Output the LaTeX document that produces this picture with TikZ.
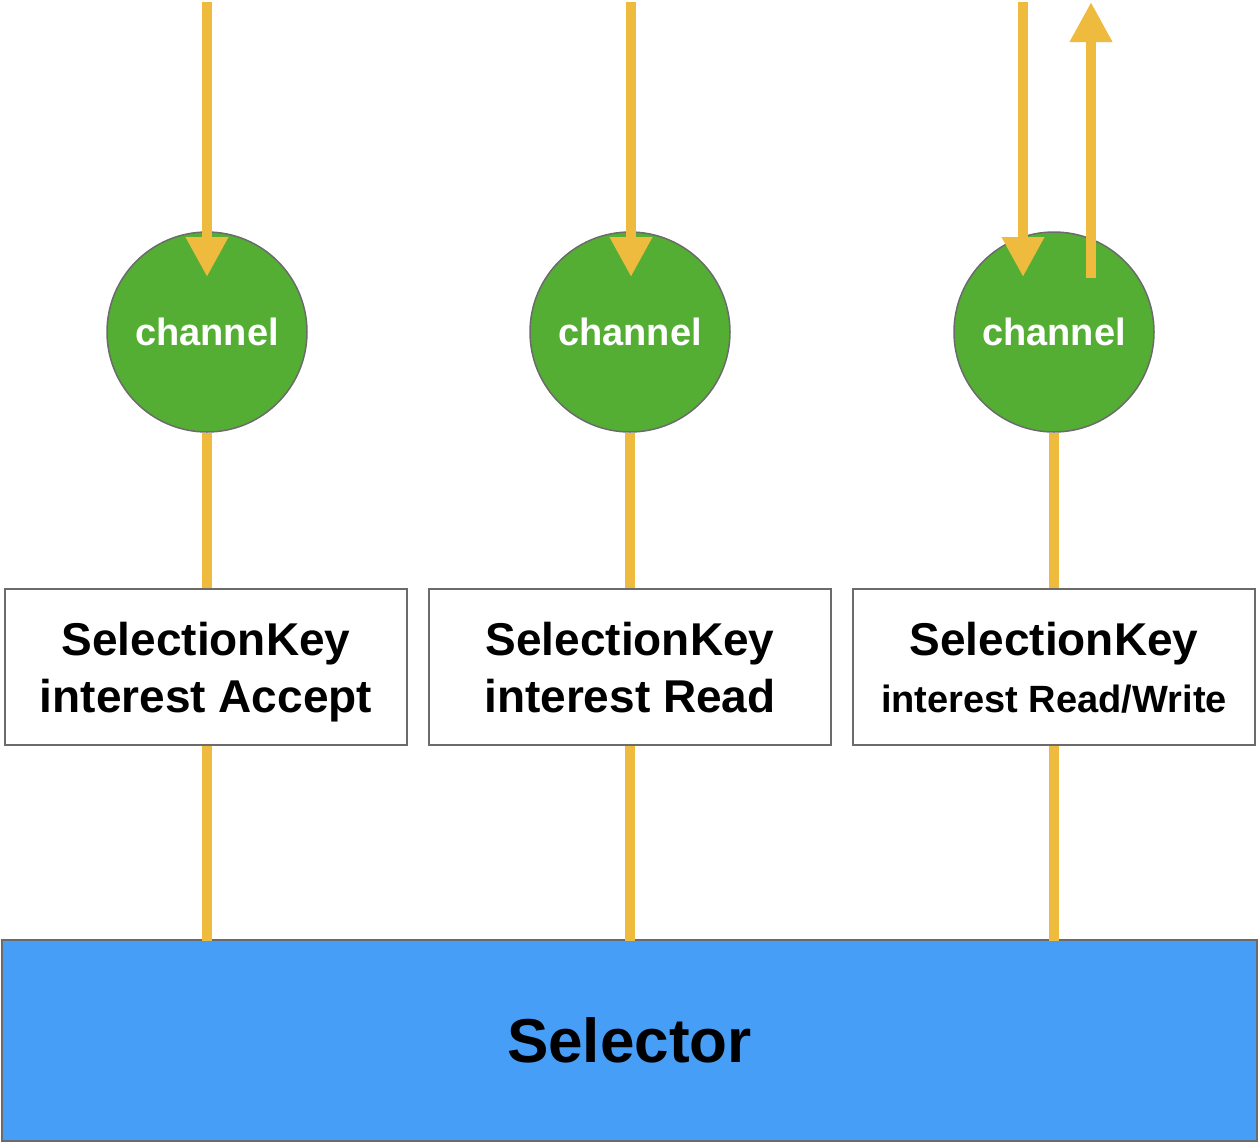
\documentclass[tikz,border=0pt]{standalone}
\usepackage{fontspec}
\setmainfont{Liberation Sans}
\usetikzlibrary{arrows.meta}
\definecolor{wire}{HTML}{EFBB3F}
\definecolor{chgreen}{HTML}{55AE34}
\definecolor{selblue}{HTML}{479EF7}
\definecolor{edgegray}{HTML}{6B6B6B}
\begin{document}
\begin{tikzpicture}[x=1pt,y=-1pt,
  chan/.style={circle,draw=edgegray,line width=1.5pt,fill=chgreen,minimum size=200pt,inner sep=0pt,
    text=white,font=\bfseries\fontsize{38pt}{46pt}\selectfont},
  keybox/.style={draw=edgegray,line width=1.5pt,fill=white,minimum width=402pt,minimum height=156pt,
    inner sep=0pt,align=center,text depth=0pt,font=\bfseries\fontsize{46pt}{57pt}\selectfont},
  wire/.style={draw=wire,line width=10pt},
  flow/.style={wire,-{Triangle[length=40pt,width=40pt]}}]
\useasboundingbox (0,0) rectangle (1260,1144);
% selector
\node[draw=edgegray,line width=2pt,fill=selblue,minimum width=1255pt,minimum height=201pt,inner sep=0pt,
  font=\bfseries\fontsize{62pt}{70pt}\selectfont] (sel) at (629.5,1040.5) {Selector};
% channels
\node[chan] (ch1) at (207,332) {channel};
\node[chan] (ch2) at (630,332) {channel};
\node[chan] (ch3) at (1054,332) {channel};
% selection keys
\node[keybox] (key1) at (206,667) {SelectionKey\\interest Accept};
\node[keybox] (key2) at (630,667) {SelectionKey\\interest Read};
\node[keybox] (key3) at (1054,667) {SelectionKey\\{\fontsize{38pt}{50pt}\selectfont interest Read/Write}};
% incoming / outgoing
\coordinate (in1) at (207,2);
\coordinate (in2) at (631,2);
\coordinate (in3) at (1023,2);
\coordinate (out3) at (1091,2);
\draw[flow] (in1) -- (207,277);
\draw[flow] (in2) -- (631,277);
\draw[flow] (in3) -- (1023,277);
\draw[flow] (1091,278) -- (out3);
% registrations
\draw[wire] (ch1) -- (key1.north -| ch1);
\draw[wire] (ch2) -- (key2.north -| ch2);
\draw[wire] (ch3) -- (key3);
\draw[wire] (key1.south -| ch1) -- ([yshift=-2pt]sel.north -| ch1);
\draw[wire] (key2.south -| ch2) -- ([yshift=-2pt]sel.north -| ch2);
\draw[wire] (key3.south -| ch3) -- ([yshift=-2pt]sel.north -| ch3);
\end{tikzpicture}
\end{document}
